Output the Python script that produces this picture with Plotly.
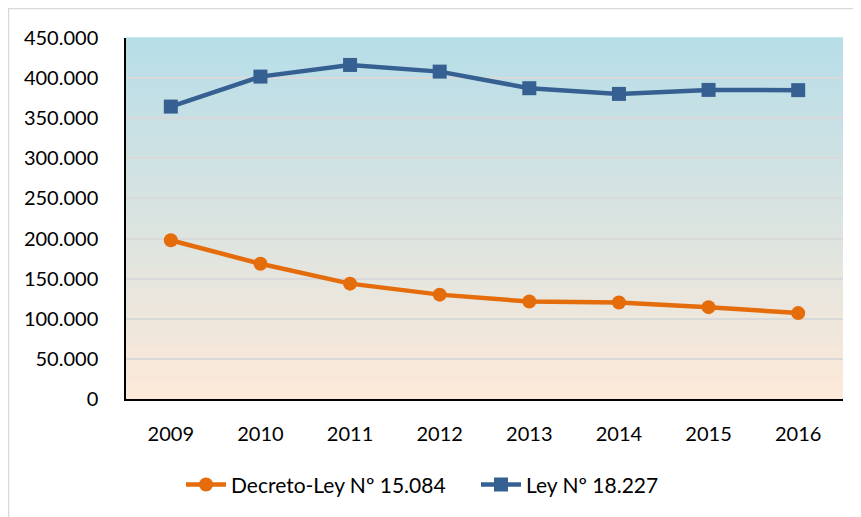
import plotly.graph_objects as go

years = ["2009", "2010", "2011", "2012", "2013", "2014", "2015", "2016"]
decreto_ley = [197900, 168600, 143800, 130100, 121500, 120300, 114500, 107100]
ley = [364500, 401900, 416400, 408100, 387400, 380300, 385300, 385000]
y_ticks = [0, 50000, 100000, 150000, 200000, 250000, 300000, 350000, 400000, 450000]

fig = go.Figure()
fig.add_trace(go.Scatter(
    x=years, y=decreto_ley, name="Decreto-Ley Nº 15.084", mode="lines+markers",
    line=dict(color="#E46C0A", width=4.5),
    marker=dict(symbol="circle", size=14, color="#E46C0A"),
))
fig.add_trace(go.Scatter(
    x=years, y=ley, name="Ley Nº 18.227", mode="lines+markers",
    line=dict(color="#366092", width=4.5),
    marker=dict(symbol="square", size=14, color="#366092"),
))

# page body has an 8px margin: figure drawn at (8,8)
L, T, R, B = 118, 30, 18, 118
W, H = 853, 509
pw, ph = W - L - R, H - T - B

# vertical gradient background (light blue top -> peach bottom)
top = (0xB7, 0xDE, 0xE8)
bot = (0xFD, 0xE9, 0xD9)
n = 90
shapes = []
for i in range(n):
    t = i / (n - 1)
    c = tuple(round(bot[k] + (top[k] - bot[k]) * t) for k in range(3))
    shapes.append(dict(type="rect", xref="paper", yref="paper",
                       x0=0, x1=1, y0=i / n, y1=(i + 1) / n + 0.002,
                       fillcolor="rgb(%d,%d,%d)" % c, line=dict(width=0), layer="below"))
# outer chart border (light gray), left and top edges visible
shapes.append(dict(type="rect", xref="paper", yref="paper",
                   x0=(0.5 - L) / pw, x1=1.2, y0=-1, y1=(ph + T - 0.5) / ph,
                   line=dict(color="#D9D9D9", width=1.5), fillcolor="rgba(0,0,0,0)", layer="below"))

fig.update_layout(
    width=W, height=H,
    margin=dict(l=L, r=R, t=T, b=B, autoexpand=False),
    paper_bgcolor="white", plot_bgcolor="rgba(0,0,0,0)",
    separators=",.",
    font=dict(family="Lato, 'Open Sans', sans-serif", size=20, color="#000000"),
    shapes=shapes,
    showlegend=True,
    legend=dict(orientation="h", x=(173 - L) / pw, xanchor="left", y=-0.238, yanchor="middle",
                font=dict(size=21), bgcolor="rgba(0,0,0,0)", itemwidth=40,
                entrywidth=240, entrywidthmode="pixels"),
    xaxis=dict(type="category", range=[-0.5, 7.5], showgrid=False,
               showline=True, linecolor="#000000", linewidth=1.5,
               ticks="", ticklabelstandoff=16, fixedrange=True, automargin=False),
    yaxis=dict(range=[0, 450000], tickvals=y_ticks, tickformat=",d",
               showgrid=True, gridcolor="#D9D9D9", gridwidth=1.5,
               showline=True, linecolor="#000000", linewidth=1.5,
               zeroline=False, ticks="", ticklabelstandoff=22, automargin=False),
)

fig.write_html("out.html")
